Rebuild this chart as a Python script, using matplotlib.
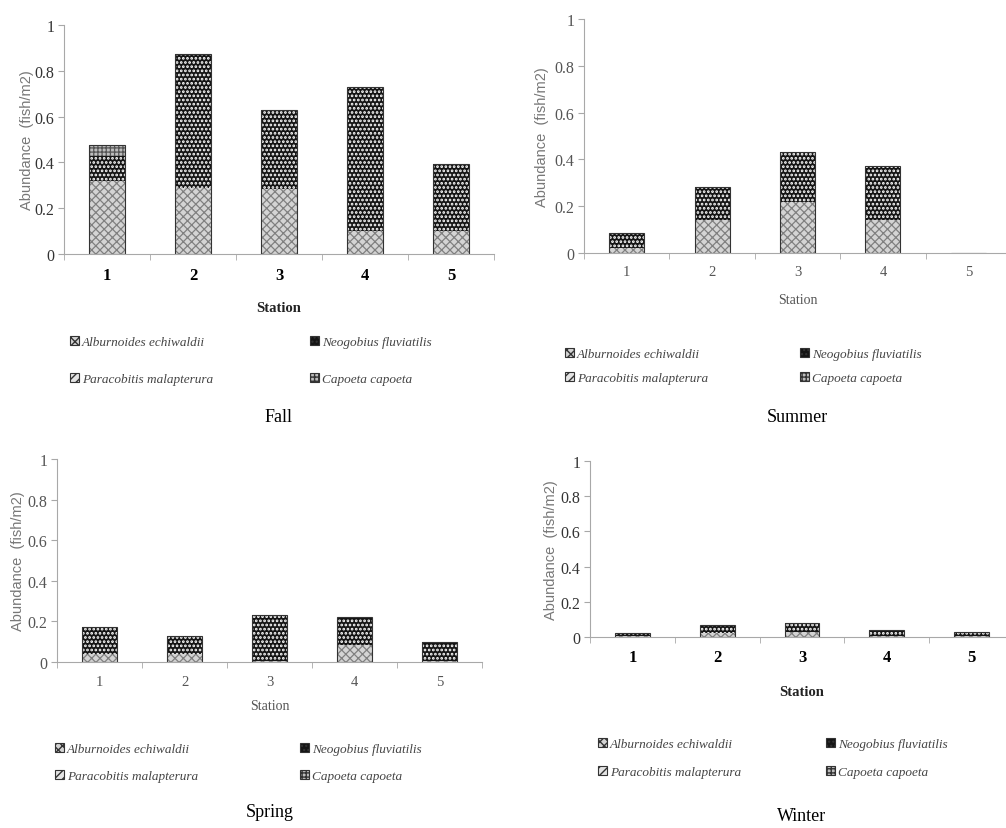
import matplotlib.pyplot as plt
import numpy as np

W, H = 1006, 829

stations = [1, 2, 3, 4, 5]
species = ["Alburnoides echiwaldii", "Neogobius fluviatilis",
           "Paracobitis malapterura", "Capoeta capoeta"]

# values (fish/m2), stacked bottom to top
fall_alb = [0.32, 0.29, 0.285, 0.10, 0.10]
fall_neo = [0.11, 0.585, 0.34, 0.63, 0.295]
fall_par = [0.0, 0.0, 0.0, 0.0, 0.0]
fall_cap = [0.045, 0.0, 0.005, 0.0, 0.0]

summer_alb = [0.02, 0.14, 0.22, 0.14, 0.0]
summer_neo = [0.065, 0.14, 0.21, 0.23, 0.0]
summer_par = [0.0, 0.0, 0.0, 0.0, 0.0]
summer_cap = [0.0, 0.0, 0.0, 0.0, 0.0]

spring_alb = [0.04, 0.04, 0.005, 0.085, 0.005]
spring_neo = [0.13, 0.09, 0.225, 0.135, 0.095]
spring_par = [0.0, 0.0, 0.0, 0.0, 0.0]
spring_cap = [0.0, 0.0, 0.0, 0.0, 0.0]

winter_alb = [0.005, 0.025, 0.03, 0.005, 0.005]
winter_neo = [0.015, 0.045, 0.05, 0.035, 0.025]
winter_par = [0.0, 0.0, 0.0, 0.0, 0.0]
winter_cap = [0.0, 0.0, 0.0, 0.0, 0.0]

yticks = [0, 0.2, 0.4, 0.6, 0.8, 1]
ytick_labels = ["0", "0.2", "0.4", "0.6", "0.8", "1"]

styles = [
    dict(facecolor="#d4d4d4", edgecolor="#808080", hatch="xxxx"),
    dict(facecolor="#151515", edgecolor="white", hatch="...."),
    dict(facecolor="#e4e4e4", edgecolor="#9a9a9a", hatch="////"),
    dict(facecolor="#bdbdbd", edgecolor="#555555", hatch="++++"),
]
hatch_lw = [0.9, 1.3, 0.9, 0.9]

fig = plt.figure(figsize=(W / 100, H / 100), dpi=100)


def px_axes(left, top, right, bottom):
    return fig.add_axes([left / W, 1 - bottom / H, (right - left) / W, (bottom - top) / H])


def panel(box, series, bold_ticks, station_y, leg_x, leg_y, leg_dx, leg_dy,
          caption, cap_y, ylab_pad):
    ax = px_axes(*box)
    x = np.array(stations)
    base = np.zeros(len(stations))
    for vals, st, hlw, name in zip(series, styles, hatch_lw, species):
        with plt.rc_context({"hatch.linewidth": hlw}):
            ax.bar(x, vals, width=0.41, bottom=base, linewidth=0, label=name, **st)
        base = base + np.array(vals)
    ax.bar(x, base, width=0.41, fill=False, edgecolor="#333333", linewidth=0.8)
    ax.set_xlim(0.5, 5.5)
    ax.set_ylim(0, 1)
    ax.set_yticks(yticks)
    ax.set_yticklabels(ytick_labels)
    ax.set_xticks(x)
    ax.set_xticks(np.arange(0.5, 6.0, 1.0), minor=True)
    for s in ["top", "right"]:
        ax.spines[s].set_visible(False)
    for s in ["left", "bottom"]:
        ax.spines[s].set_color("#a8a8a8")
    ax.tick_params(axis="x", which="major", length=0, pad=9)
    ax.tick_params(axis="x", which="minor", length=4, color="#a8a8a8", direction="out")
    ax.tick_params(axis="y", length=4, color="#a8a8a8", pad=3)
    col = "black" if bold_ticks else "#555555"
    for t in ax.get_xticklabels():
        t.set_fontfamily("Liberation Serif")
        t.set_fontsize(12 if bold_ticks else 10.5)
        t.set_color(col)
        if bold_ticks:
            t.set_fontweight("bold")
    for t in ax.get_yticklabels():
        t.set_fontfamily("Liberation Serif")
        t.set_fontsize(11.5)
        t.set_color("#333333" if bold_ticks else "#555555")
    ax.set_ylabel("Abundance  (fish/m2)", fontsize=10.5, color="#777777",
                  fontfamily="Liberation Sans", labelpad=ylab_pad)
    cx = (box[0] + box[2]) / 2
    fig.text(cx / W, 1 - station_y / H, "Station", ha="center", va="center",
             fontfamily="Liberation Serif", fontsize=10.5 if bold_ticks else 10,
             fontweight="bold" if bold_ticks else "normal",
             color="#222222" if bold_ticks else "#555555")
    handles, labels = ax.get_legend_handles_labels()
    for i, (h, lab) in enumerate(zip(handles[:4], labels[:4])):
        r, c = divmod(i, 2)
        lx = leg_x + c * leg_dx
        ly = leg_y + r * leg_dy
        leg = fig.legend([h], [lab], loc="center left",
                         bbox_to_anchor=(lx / W, 1 - ly / H), frameon=False,
                         handlelength=0.7, handleheight=0.7, handletextpad=0.2,
                         borderpad=0, borderaxespad=0,
                         prop=dict(family="Liberation Serif", style="italic", size=9.5))
        for t in leg.get_texts():
            t.set_color("#444444")
        for p in leg.get_patches():
            p.set_linewidth(0.8)
            p.set_edgecolor("#333333")
    fig.text(cx / W, 1 - cap_y / H, caption, ha="center", va="center",
             fontfamily="Liberation Serif", fontsize=13, color="black")
    return ax


panel((64, 26, 494, 255), [fall_alb, fall_neo, fall_par, fall_cap], True,
      309, 70, 343, 240, 37, "Fall", 418, 0)
panel((584, 20, 1011, 254), [summer_alb, summer_neo, summer_par, summer_cap], False,
      300, 565, 355, 235, 24, "Summer", 418, 4)
panel((57, 460, 482, 663), [spring_alb, spring_neo, spring_par, spring_cap], False,
      707, 55, 750, 245, 27, "Spring", 813, 2)
panel((590, 462, 1014, 638), [winter_alb, winter_neo, winter_par, winter_cap], True,
      692, 598, 745, 228, 28, "Winter", 817, 2)

fig.savefig("out.png", dpi=100)
